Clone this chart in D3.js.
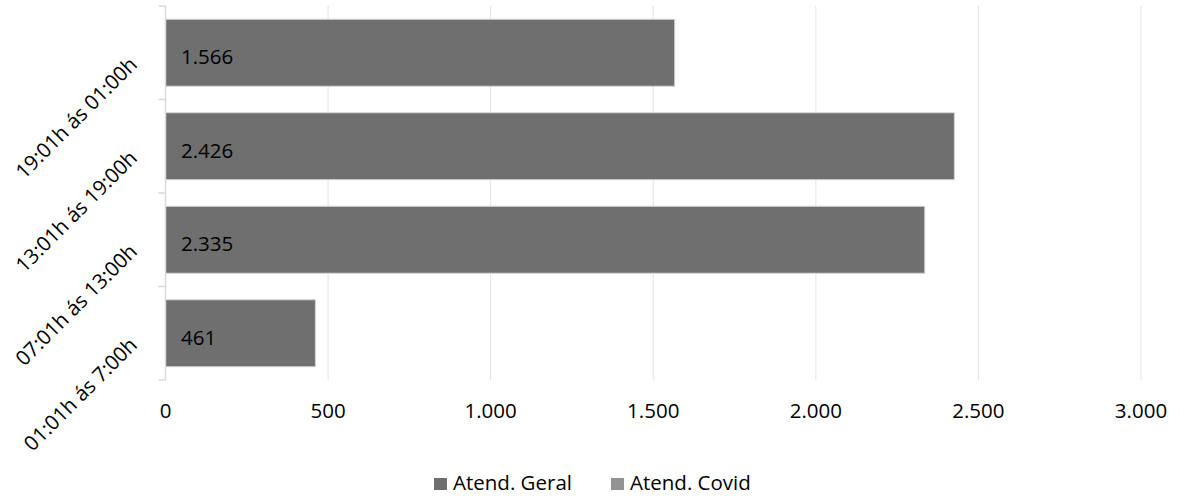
<!DOCTYPE html>
<html><head><meta charset="utf-8">
<script src="https://cdn.jsdelivr.net/npm/d3@7"></script>
<style>body{margin:0;background:#fff;} text{font-family:"Open Sans", "Noto Sans", sans-serif;}</style>
</head><body>
<svg id="c" width="1179" height="498"></svg>
<script>
const categories = ["19:01h ás 01:00h", "13:01h ás 19:00h", "07:01h ás 13:00h", "01:01h ás 7:00h"];
const geral = [1566, 2426, 2335, 461];
const covid = [0, 0, 0, 0];
const xTicks = [0, 500, 1000, 1500, 2000, 2500, 3000];
const seriesNames = ["Atend. Geral", "Atend. Covid"];
const seriesColors = ["#6f6f6f", "#939393"];

const svg = d3.select("#c");
const x0 = 165.5, x1 = 1141, y0 = 6, y1 = 380;
const x = d3.scaleLinear().domain([0, 3000]).range([x0, x1]);
const y = d3.scaleBand().domain(categories).range([y0, y1]).paddingInner(0.284).paddingOuter(0.142);
const fmt = v => d3.format(",")(v).replace(/,/g, ".");
const FS = 20.5;

// gridlines
svg.append("g").selectAll("line").data(xTicks.slice(1)).join("line")
  .attr("x1", d => x(d)).attr("x2", d => x(d)).attr("y1", y0).attr("y2", y1)
  .attr("stroke", "#e3e3e3").attr("stroke-width", 1);

// bars
svg.append("g").selectAll("rect").data(categories).join("rect")
  .attr("x", x(0)).attr("y", d => y(d))
  .attr("width", (d, i) => x(geral[i]) - x(0)).attr("height", y.bandwidth())
  .attr("fill", seriesColors[0]).attr("stroke", "#d4d4d4").attr("stroke-width", 1);

// data labels
svg.append("g").selectAll("text").data(categories).join("text")
  .attr("x", x(0) + 15.5).attr("y", d => y(d) + y.bandwidth() / 2 + 11.5)
  .attr("font-size", FS).attr("fill", "#000")
  .text((d, i) => fmt(geral[i]));

// y axis
svg.append("line").attr("x1", x0).attr("x2", x0).attr("y1", y0).attr("y2", y1)
  .attr("stroke", "#d9d9d9").attr("stroke-width", 1.5);
const tickYs = [y0].concat(categories.map(c => y(c) + y.bandwidth() + y.step() * y.paddingInner() / 2));
tickYs[tickYs.length - 1] = y1;
svg.append("g").selectAll("line").data(tickYs).join("line")
  .attr("x1", x0 - 7).attr("x2", x0).attr("y1", d => d).attr("y2", d => d)
  .attr("stroke", "#d9d9d9").attr("stroke-width", 1.5);

// category labels
svg.append("g").selectAll("text").data(categories).join("text")
  .attr("transform", d => `translate(${x0 - 27},${y(d) + y.bandwidth() / 2 + 13}) rotate(-45)`)
  .attr("text-anchor", "end").attr("font-size", FS).attr("fill", "#000")
  .text(d => d);

// x tick labels
svg.append("g").selectAll("text").data(xTicks).join("text")
  .attr("x", d => x(d)).attr("y", 418).attr("text-anchor", "middle")
  .attr("font-size", FS).attr("fill", "#000").text(d => fmt(d));

// legend
const lg = svg.append("g");
const legX = [434, 611];
seriesNames.forEach((n, i) => {
  lg.append("rect").attr("x", legX[i]).attr("y", 478).attr("width", 13).attr("height", 12).attr("fill", seriesColors[i]);
  lg.append("text").attr("x", legX[i] + 19).attr("y", 490)
    .attr("font-size", FS).attr("fill", "#000").text(n);
});
</script>
</body></html>
